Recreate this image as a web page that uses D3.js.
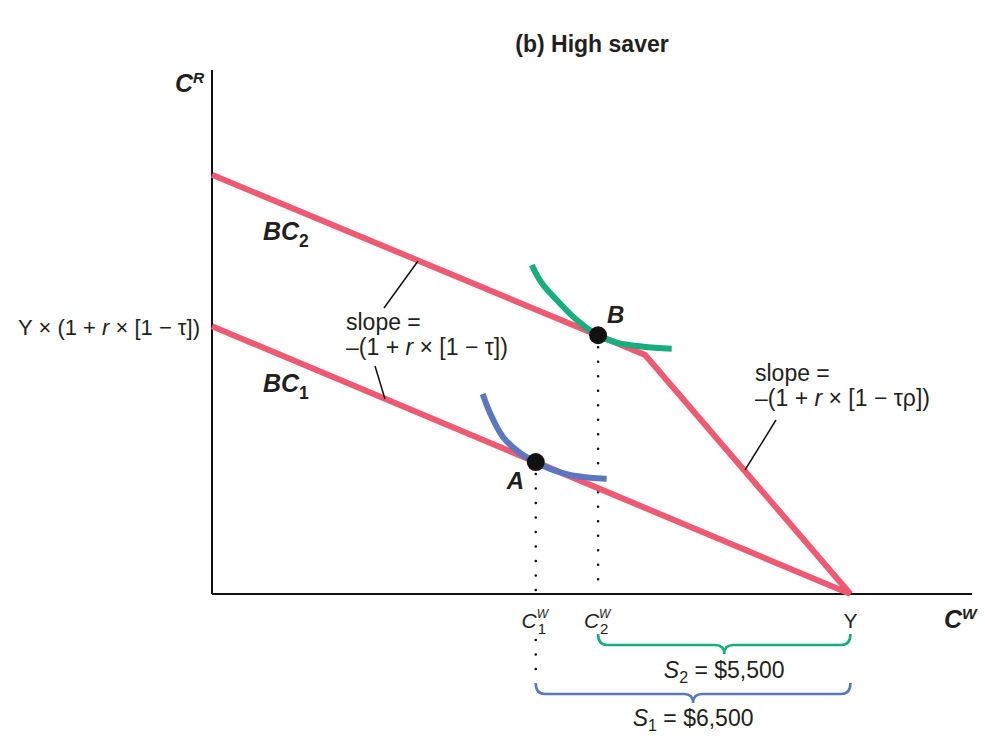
<!DOCTYPE html>
<html><head><meta charset="utf-8">
<script src="https://cdn.jsdelivr.net/npm/d3@7"></script>
<style>body{margin:0;background:#fff} text{font-family:"Liberation Sans",Arial,sans-serif;fill:#231F20}
.nar{font-family:"Liberation Sans Narrow","Liberation Sans",Arial,sans-serif}</style>
</head><body><svg id="c" width="985" height="740"></svg>
<script>
// ---- data (abstract units: CW 0..100, CR 0..100) ----
const incomeY = 84;
const bc1 = [[0, 51.3], [84, 0]];
const bc2 = [[0, 80.3], [57, 45.8], [84, 0]];
const curveA = [[35.62, 38.31], [36.58, 34.67], [38.29, 30.08], [40.53, 27.01], [42.6, 25.28], [44.87, 23.75], [47.11, 22.80], [49.74, 22.28], [51.93, 22.09]];
const curveB = [[42.07, 63.03], [43.38, 59.58], [45.36, 56.32], [47.99, 52.49], [50.8, 49.57], [53.25, 48.14], [56.75, 47.38], [60.49, 46.99]];
const optima = [{name: "A", cw: 42.6, cr: 25.28}, {name: "B", cw: 50.8, cr: 49.57}];
const savings = [{label: "S", sub: "2", value: "$5,500", from: 50.8, to: 84},
                 {label: "S", sub: "1", value: "$6,500", from: 42.6, to: 84}];

const RED = "#EE5A72", BLUE = "#5B78BE", GREEN = "#17AE7E";
const svg = d3.select("#c");
const x = d3.scaleLinear([0, 100], [212, 972]);
const y = d3.scaleLinear([0, 100], [594, 72]);
const line = d3.line(d => x(d[0]), d => y(d[1]));
const smooth = d3.line(d => x(d[0]), d => y(d[1])).curve(d3.curveCatmullRom);

// axes
svg.append("line").attr("x1", x(0)).attr("x2", x(0)).attr("y1", y(100) - 2).attr("y2", y(0)).attr("stroke", "#111").attr("stroke-width", 2);
svg.append("line").attr("x1", x(0)).attr("x2", x(100)).attr("y1", y(0)).attr("y2", y(0)).attr("stroke", "#111").attr("stroke-width", 2);

// dotted drop lines
const dots = (x0, y0, y1) => svg.append("line").attr("x1", x0).attr("x2", x0).attr("y1", y0).attr("y2", y1)
  .attr("stroke", "#111").attr("stroke-width", 2.6).attr("stroke-linecap", "round").attr("stroke-dasharray", "0,14.5");
dots(x(optima[0].cw), y(optima[0].cr) + 12, y(0));
dots(x(optima[0].cw), 640, 682);
dots(x(optima[1].cw), y(optima[1].cr) + 12, y(0) - 2);

// budget constraints
svg.append("path").attr("d", line(bc1)).attr("fill", "none").attr("stroke", RED).attr("stroke-width", 6).attr("stroke-linejoin", "miter");
svg.append("path").attr("d", line(bc2)).attr("fill", "none").attr("stroke", RED).attr("stroke-width", 6).attr("stroke-linejoin", "miter");

// indifference curves
svg.append("path").attr("d", smooth(curveA)).attr("fill", "none").attr("stroke", BLUE).attr("stroke-width", 6);
svg.append("path").attr("d", smooth(curveB)).attr("fill", "none").attr("stroke", GREEN).attr("stroke-width", 6);

// points
svg.selectAll("circle.pt").data(optima).join("circle").attr("class", "pt")
  .attr("cx", d => x(d.cw)).attr("cy", d => y(d.cr)).attr("r", 9).attr("fill", "#111");
svg.append("text").attr("class", "nar").attr("x", x(optima[0].cw) - 29).attr("y", y(optima[0].cr) + 27).text("A")
  .attr("font-size", 24).attr("font-weight", "bold").attr("font-style", "italic");
svg.append("text").attr("class", "nar").attr("x", x(optima[1].cw) + 9).attr("y", y(optima[1].cr) - 12).text("B")
  .attr("font-size", 24).attr("font-weight", "bold").attr("font-style", "italic");

// leader lines
const lead = (x1, y1, x2, y2) => svg.append("line").attr("x1", x1).attr("y1", y1).attr("x2", x2).attr("y2", y2).attr("stroke", "#111").attr("stroke-width", 1.5);
lead(384, 308, 418, 261);
lead(375, 366, 385, 399);
lead(776, 420, 745, 470);

// title
svg.append("text").attr("x", 592).attr("y", 52).attr("text-anchor", "middle").attr("font-size", 23).attr("font-weight", "bold").text("(b) High saver");

// axis labels
function supLabel(xp, yp, main, sup, size) {
  const t = svg.append("text").attr("class", "nar").attr("x", xp).attr("y", yp).attr("font-size", size).attr("font-weight", "bold").attr("font-style", "italic");
  t.append("tspan").text(main);
  t.append("tspan").attr("dy", -9).attr("font-size", size * 0.62).text(sup);
}
supLabel(175, 92, "C", "R", 25);
supLabel(944, 628, "C", "W", 25);

// BC labels
function subLabel(xp, yp, main, sub, size) {
  const t = svg.append("text").attr("class", "nar").attr("x", xp).attr("y", yp).attr("font-size", size).attr("font-weight", "bold").attr("font-style", "italic");
  t.append("tspan").text(main);
  t.append("tspan").attr("dy", 7).attr("font-size", size * 0.7).attr("font-style", "normal").text(sub);
}
subLabel(263, 240, "BC", "2", 25);
subLabel(263, 392, "BC", "1", 25);

// intercept label
const il = svg.append("text").attr("x", 200).attr("y", 335).attr("text-anchor", "end").attr("font-size", 22);
il.append("tspan").text("Y × (1 + ");
il.append("tspan").attr("font-style", "italic").text("r");
il.append("tspan").text(" × [1 − τ])");

// slope labels
function slope(xp, yp, tail) {
  svg.append("text").attr("x", xp).attr("y", yp).attr("font-size", 23).text("slope =");
  const t = svg.append("text").attr("x", xp).attr("y", yp + 25).attr("font-size", 23);
  t.append("tspan").text("–(1 + ");
  t.append("tspan").attr("font-style", "italic").text("r");
  t.append("tspan").text(" × [1 − " + tail + "])");
}
slope(346, 330, "τ");
slope(755, 381, "τρ");

// x tick labels
function cwTick(cw, sub) {
  const xp = x(cw);
  svg.append("text").attr("x", xp + 1).attr("y", 628).attr("text-anchor", "end").attr("font-size", 21).attr("font-style", "italic").text("C");
  svg.append("text").attr("x", xp + 1).attr("y", 618).attr("font-size", 12).attr("font-style", "italic").text("W");
  svg.append("text").attr("x", xp + 2).attr("y", 634).attr("font-size", 15).text(sub);
}
cwTick(optima[0].cw, "1");
cwTick(optima[1].cw, "2");
svg.append("text").attr("x", x(incomeY)).attr("y", 628).attr("text-anchor", "middle").attr("font-size", 21).text("Y");

// braces
function brace(x1, x2, top, color) {
  const h = 11, r = 9, mid = (x1 + x2) / 2, tip = 9;
  const yb = top + h;
  const p = `M${x1},${top} Q${x1},${yb} ${x1 + r},${yb} L${mid - r},${yb} Q${mid},${yb} ${mid},${yb + tip} Q${mid},${yb} ${mid + r},${yb} L${x2 - r},${yb} Q${x2},${yb} ${x2},${top}`;
  svg.append("path").attr("d", p).attr("fill", "none").attr("stroke", color).attr("stroke-width", 2.6);
}
brace(x(savings[0].from), x(savings[0].to), 634, GREEN);
brace(x(savings[1].from), x(savings[1].to), 683, BLUE);

function sLabel(s, yp) {
  const mid = (x(s.from) + x(s.to)) / 2;
  const t = svg.append("text").attr("x", mid).attr("y", yp).attr("text-anchor", "middle").attr("font-size", 23);
  t.append("tspan").attr("font-style", "italic").text(s.label);
  t.append("tspan").attr("dy", 5).attr("font-size", 16).text(s.sub);
  t.append("tspan").attr("dy", -5).text(" = " + s.value);
}
sLabel(savings[0], 678);
sLabel(savings[1], 726);
</script></body></html>
